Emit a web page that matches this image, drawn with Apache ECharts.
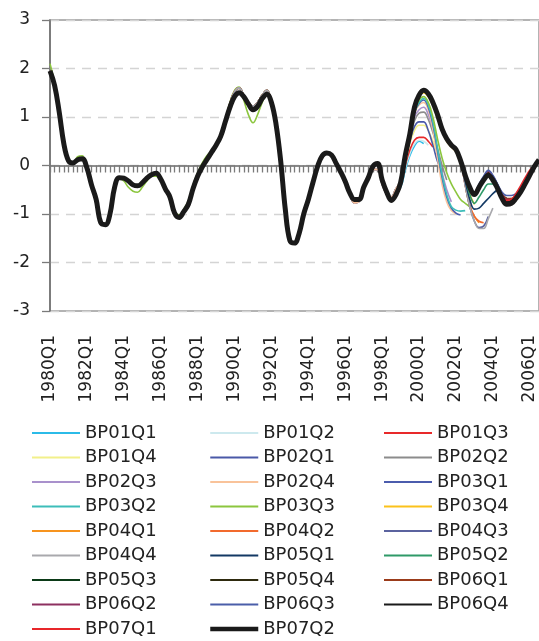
<!DOCTYPE html>
<html>
<head>
<meta charset="utf-8">
<script src="https://cdn.jsdelivr.net/npm/echarts@6/dist/echarts.min.js"></script>
<style>
html,body{margin:0;padding:0;background:#fff;}
#chart{width:539px;height:641px;}
</style>
</head>
<body>
<div id="chart"></div>
<script>
// Quarter categories 1980Q1 .. 2006Q3
const years = [1980,1981,1982,1983,1984,1985,1986,1987,1988,1989,1990,1991,1992,1993,1994,1995,1996,1997,1998,1999,2000,2001,2002,2003,2004,2005,2006];
const categories = [];
years.forEach(y => { ['Q1','Q2','Q3','Q4'].forEach(q => categories.push(y + q)); });
categories.length = 107;

const yTicks = [-3, -2, -1, 0, 1, 2, 3];

const names = ['BP01Q1','BP01Q2','BP01Q3','BP01Q4','BP02Q1','BP02Q2','BP02Q3','BP02Q4','BP03Q1','BP03Q2','BP03Q3','BP03Q4','BP04Q1','BP04Q2','BP04Q3','BP04Q4','BP05Q1','BP05Q2','BP05Q3','BP05Q4','BP06Q1','BP06Q2','BP06Q3','BP06Q4','BP07Q1','BP07Q2'];
const colors = ['#2bbbe8','#cde9ee','#e8292a','#f2f08a','#4a59a8','#8c8c8c','#a991cc','#f9c39a','#4b5cad','#3dbdb9','#8cc63f','#fbc21b','#f7941e','#f26a2d','#5b639f','#a9a9ad','#133964','#2f9a68','#0b3a17','#2e2a0e','#9b3b1a','#8d3060','#4b5ea9','#1a1a1a','#e8262a','#1a1a1a'];

// Common history 1980Q1..1998Q4 (index 0..75)
const hist = [1.95, 1.65, 1.1, 0.45, 0.1, 0.05, 0.12, 0.14, -0.05, -0.4,
 -0.7, -1.18, -1.22, -1.0, -0.45, -0.25, -0.26, -0.32, -0.4, -0.42,
 -0.36, -0.26, -0.19, -0.16, -0.28, -0.48, -0.65, -0.98, -1.07, -0.95,
 -0.8, -0.48, -0.22, -0.03, 0.12, 0.27, 0.42, 0.6, 0.9, 1.2,
 1.42, 1.5, 1.42, 1.27, 1.15, 1.22, 1.38, 1.47, 1.3, 0.85,
 0.1, -0.9, -1.55, -1.6, -1.4, -1.0, -0.7, -0.35, -0.02, 0.2,
 0.26, 0.22, 0.05, -0.13, -0.33, -0.57, -0.7, -0.7, -0.45, -0.25,
 -0.02, 0.04, -0.3, -0.55, -0.72, -0.6];
// earlier vintages around 1989Q3..1992Q1 (index 38..48)
const early90 = [0.9, 1.28, 1.52, 1.6, 1.45, 1.3, 1.22, 1.3, 1.45, 1.55, 1.32];
// earlier vintages around 1996Q1..1998Q4 (index 64..75)
const early98 = [-0.35, -0.6, -0.77, -0.74, -0.47, -0.22, -0.08, -0.08, -0.38, -0.6, -0.65, -0.48];
// BP03Q3 history 1980Q1..1992Q1 (index 0..48)
const greenHist = [2.1, 1.7, 1.1, 0.45, 0.08, 0.05, 0.18, 0.2, -0.05, -0.4,
 -0.7, -1.15, -1.2, -0.95, -0.45, -0.27, -0.32, -0.45, -0.53, -0.55,
 -0.45, -0.32, -0.22, -0.22, -0.32, -0.5, -0.65, -0.95, -1.02, -0.9,
 -0.72, -0.4, -0.15, 0.05, 0.2, 0.3, 0.45, 0.62, 0.95, 1.3,
 1.55, 1.62, 1.35, 1.05, 0.88, 1.05, 1.3, 1.5, 1.3];
// later vintages 1999Q1..2002Q2 (index 76..89)
const boom = [-0.35, 0.2, 0.65, 1.2, 1.45, 1.55, 1.48, 1.3, 1.05, 0.75, 0.55, 0.42, 0.33, 0.1];

// vintage tails starting 1999Q1 (index 76)
const t01q1 = [-0.45, -0.1, 0.2, 0.4, 0.5, 0.45];
const t01q2 = [-0.42, -0.05, 0.25, 0.45, 0.52, 0.5, 0.42];
const t01q3 = [-0.4, 0.0, 0.32, 0.52, 0.58, 0.58, 0.5, 0.38];
const t01q4 = [-0.38, 0.05, 0.45, 0.72, 0.83, 0.83, 0.72, 0.5, 0.25];
const t02q1 = [-0.35, 0.1, 0.5, 0.8, 0.9, 0.9, 0.72, 0.42, 0.08, -0.15];
const t02q2 = [-0.33, 0.12, 0.6, 0.92, 1.08, 1.1, 0.95, 0.68, 0.35, 0.0, -0.3];
const t02q3 = [-0.32, 0.15, 0.65, 1.0, 1.15, 1.2, 1.05, 0.75, 0.3, -0.15, -0.5, -0.75];
const t02q4 = [-0.3, 0.18, 0.7, 1.08, 1.25, 1.3, 1.15, 0.75, 0.15, -0.4, -0.75, -0.93, -1.0];
const t03q1 = [-0.3, 0.18, 0.7, 1.1, 1.28, 1.35, 1.2, 0.85, 0.3, -0.25, -0.65, -0.88, -0.98, -1.02];
const t03q2 = [-0.3, 0.2, 0.7, 1.1, 1.3, 1.38, 1.25, 0.9, 0.35, -0.2, -0.6, -0.85, -0.92, -0.94, -0.93];
const t03q3 = [-0.3, 0.2, 0.72, 1.12, 1.35, 1.42, 1.3, 1.0, 0.55, 0.15, -0.15, -0.38, -0.55, -0.7, -0.78, -0.85];
const t03q4 = [-0.3, 0.2, 0.68, 1.18, 1.42, 1.5, 1.42, 1.25, 1.0, 0.7, 0.5, 0.38, 0.28, 0.02, -0.3, -0.6, -0.8];
// vintage tails starting 2002Q3 (index 90)
const t04q1 = [-0.4, -0.85, -1.05, -1.18];
const t04q2 = [-0.4, -0.82, -1.05, -1.15, -1.18];
const t04q3 = [-0.4, -0.85, -1.15, -1.28, -1.25, -1.05];
const t04q4 = [-0.4, -0.85, -1.15, -1.3, -1.3, -1.1, -0.88];
const t05q1 = [-0.32, -0.7, -0.9, -0.88, -0.78, -0.68, -0.58, -0.5];
const t05q2 = [-0.25, -0.6, -0.78, -0.65, -0.5, -0.38, -0.38, -0.5, -0.65];
const t05q3 = [-0.2, -0.45, -0.6, -0.45, -0.28, -0.15, -0.25, -0.42, -0.6, -0.68];
const t05q4 = [-0.2, -0.45, -0.6, -0.45, -0.28, -0.15, -0.25, -0.42, -0.6, -0.7, -0.68];
const t06q1 = [-0.2, -0.45, -0.58, -0.42, -0.25, -0.12, -0.22, -0.4, -0.58, -0.68, -0.68, -0.6];
const t06q2 = [-0.2, -0.45, -0.58, -0.42, -0.25, -0.12, -0.22, -0.4, -0.6, -0.7, -0.7, -0.62, -0.5];
const t06q3 = [-0.2, -0.43, -0.55, -0.38, -0.22, -0.1, -0.2, -0.38, -0.55, -0.62, -0.62, -0.58, -0.45, -0.3];
const t06q4 = [-0.2, -0.45, -0.6, -0.45, -0.28, -0.17, -0.27, -0.45, -0.65, -0.75, -0.72, -0.65, -0.5, -0.35, -0.18];
const t07q1 = [-0.2, -0.45, -0.6, -0.45, -0.28, -0.18, -0.28, -0.45, -0.62, -0.72, -0.7, -0.58, -0.42, -0.25, -0.1, 0.0];
const t07q2 = [-0.2, -0.45, -0.6, -0.45, -0.3, -0.2, -0.3, -0.47, -0.68, -0.8, -0.78, -0.68, -0.55, -0.38, -0.2, -0.02, 0.12];

const tails = [t01q1,t01q2,t01q3,t01q4,t02q1,t02q2,t02q3,t02q4,t03q1,t03q2,t03q3,t03q4,
  t04q1,t04q2,t04q3,t04q4,t05q1,t05q2,t05q3,t05q4,t06q1,t06q2,t06q3,t06q4,t07q1,t07q2];

function vintageData(k) {
  const d = hist.slice();
  if (k <= 15) early90.forEach((v, j) => { d[38 + j] = v; });
  if (k === 10) greenHist.forEach((v, j) => { d[j] = v; });
  if (k <= 7) early98.forEach((v, j) => { d[64 + j] = v; });
  if (k <= 11) return d.concat(tails[k]);
  return d.concat(boom, tails[k]);
}

const series = names.map((n, k) => ({
  name: n,
  type: 'line',
  data: vintageData(k),
  xAxisIndex: 0,
  yAxisIndex: 0,
  smooth: 0.4,
  symbol: 'none',
  showSymbol: false,
  lineStyle: { color: colors[k], width: k === 25 ? 5 : 1.6 },
  itemStyle: { color: colors[k] },
  z: k === 25 ? 5 : 3
}));

const FONT = 'DejaVu Sans';
function legendCol(left, offset) {
  return {
    orient: 'vertical',
    left: left,
    top: 424,
    padding: 0,
    itemWidth: 48,
    itemHeight: 12,
    itemGap: 6.5,
    itemStyle: { opacity: 0 },
    lineStyle: { width: 2 },
    textStyle: { fontFamily: FONT, fontSize: 18, color: '#222', lineHeight: 18 },
    data: names.filter((n, i) => i % 3 === offset).map(n =>
      n === 'BP07Q2' ? { name: n, lineStyle: { width: 4.5 } } : { name: n })
  };
}

const chart = echarts.init(document.getElementById('chart'), null, { renderer: 'canvas' });
chart.setOption({
  animation: false,
  backgroundColor: '#fff',
  grid: { left: 50, top: 20, width: 494, height: 291, show: true, borderColor: '#9a9a9a', borderWidth: 1.5, backgroundColor: 'transparent' },
  legend: [legendCol(31, 0), legendCol(208, 1), legendCol(383, 2)],
  xAxis: [
    {
      type: 'category', data: categories, boundaryGap: false,
      axisLine: { onZero: true, lineStyle: { color: '#6a6a6a', width: 1.5 } },
      axisTick: { show: true, interval: 0, length: 7, lineStyle: { color: '#7a7a7a', width: 1.3 } },
      axisLabel: { show: false },
      splitLine: { show: false }
    },
    {
      type: 'category', data: categories, boundaryGap: false, position: 'bottom',
      axisLine: { show: false, onZero: false },
      axisTick: { show: false },
      axisLabel: { interval: 7, rotate: 90, margin: 24, fontFamily: FONT, fontSize: 17, color: '#222', padding: [0, 0, 16, 0] },
      splitLine: { show: false }
    }
  ],
  yAxis: {
    type: 'value', min: yTicks[0], max: yTicks[yTicks.length - 1], interval: 1,
    axisLine: { show: true, lineStyle: { color: '#6a6a6a', width: 1.5 } },
    axisTick: { show: true, length: 8, lineStyle: { color: '#7a7a7a', width: 1.3 } },
    axisLabel: { margin: 20, fontFamily: FONT, fontSize: 17, color: '#222' },
    splitLine: { show: true, lineStyle: { color: '#d4d4d4', width: 1.3, type: [9, 7] } }
  },
  series: series
});
</script>
</body>
</html>
